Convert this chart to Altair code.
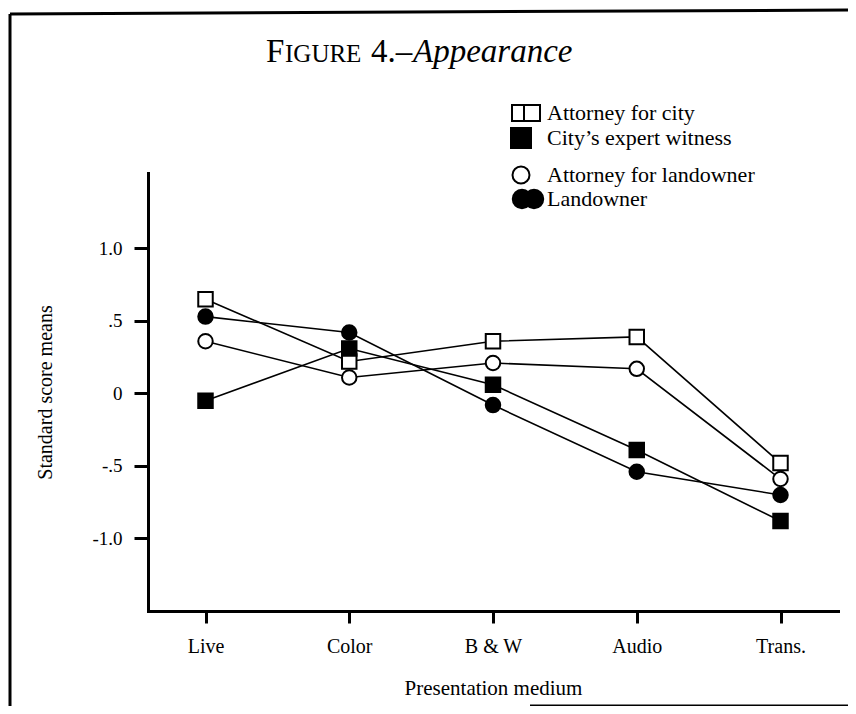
import altair as alt
import pandas as pd

# ---- data ----
categories = ["Live", "Color", "B & W", "Audio", "Trans."]
series_names = ["Attorney for city", "City\u2019s expert witness",
                "Attorney for landowner", "Landowner"]
attorney_city = [0.65, 0.22, 0.36, 0.39, -0.48]
expert_witness = [-0.05, 0.31, 0.06, -0.39, -0.88]
attorney_landowner = [0.36, 0.11, 0.21, 0.17, -0.59]
landowner = [0.53, 0.42, -0.08, -0.54, -0.70]
y_ticks = [1.0, 0.5, 0.0, -0.5, -1.0]
y_tick_labels = ["1.0", ".5", "0", "-.5", "-1.0"]

series_values = [attorney_city, expert_witness, attorney_landowner, landowner]
rows = []
for name, vals in zip(series_names, series_values):
    for cat, v in zip(categories, vals):
        rows.append({"series": name, "medium": cat, "score": v})
df = pd.DataFrame(rows)

label_expr = " : ".join(
    f"datum.value == {v} ? '{t}'" for v, t in zip(y_ticks, y_tick_labels)
) + " : ''"

FONT = "Liberation Serif"
W, H = 690, 438

x_enc = alt.X("medium:N", sort=categories,
              scale=alt.Scale(type="point", padding=0.4),
              axis=alt.Axis(labelAngle=0, grid=False, domainWidth=3, domainColor="black",
                            domainCap="square",
                            tickWidth=3, tickColor="black", tickSize=12,
                            labelFontSize=20, labelColor="black", labelPadding=13,
                            labelFont=FONT,
                            title="Presentation medium", titleFont=FONT, titleFontSize=21,
                            titleFontWeight="normal", titleColor="black",
                            titleY=83, titleBaseline="alphabetic"))
y_enc = alt.Y("score:Q", scale=alt.Scale(domain=[-1.5, 1.52], nice=False, zero=False),
              axis=alt.Axis(values=y_ticks, grid=False, domainWidth=3, domainColor="black",
                            domainCap="square",
                            tickWidth=3, tickColor="black", tickSize=14,
                            labelFontSize=19, labelColor="black", labelPadding=12,
                            labelFont=FONT, labelExpr=label_expr,
                            title="Standard score means", titleFont=FONT, titleFontSize=20,
                            titleFontWeight="normal", titleColor="black",
                            titleX=-103, titleY=219, titleAngle=270,
                            titleAlign="center", titleBaseline="middle"))

lines = alt.Chart(df).mark_line(color="black", strokeWidth=1.6).encode(
    x=x_enc, y=y_enc, detail="series:N")

points = alt.Chart(df).mark_point(filled=True, size=210, stroke="black", strokeWidth=2,
                                  opacity=1, fillOpacity=1).encode(
    x=x_enc, y=y_enc,
    shape=alt.Shape("series:N", scale=alt.Scale(domain=series_names,
                    range=["square", "square", "circle", "circle"]), legend=None),
    fill=alt.Fill("series:N", scale=alt.Scale(domain=series_names,
                  range=["white", "black", "white", "black"]), legend=None))

one = pd.DataFrame({"a": [0]})

def txt(s, x, y, size, style="normal", align="left", baseline="alphabetic"):
    return alt.Chart(one).mark_text(text=s, fontSize=size, font=FONT, fontStyle=style,
                                    align=align, baseline=baseline, color="black").encode(
        x=alt.value(x), y=alt.value(y))

def sym(shape, x, y, size, fill):
    return alt.Chart(one).mark_point(shape=shape, size=size, filled=True, fill=fill,
                                     stroke="black", strokeWidth=2, opacity=1).encode(
        x=alt.value(x), y=alt.value(y))

def rule(x1, y1, x2, y2, w=3):
    return alt.Chart(one).mark_rule(color="black", strokeWidth=w).encode(
        x=alt.value(x1), y=alt.value(y1), x2=alt.value(x2), y2=alt.value(y2))

# title (small caps composed)
title_layers = [
    txt("F", 118, -111, 33),
    txt("IGURE", 137, -111, 25),
    txt("4.\u2013", 223, -111, 33),
    txt("Appearance", 265, -111, 33, style="italic"),
]

# manual legend
legend_layers = [
    sym("square", 372, -60, 256, "white"),
    sym("square", 384, -60, 256, "white"),
    txt(series_names[0], 399, -60, 22, baseline="middle"),
    sym("square", 373, -35, 400, "black"),
    txt(series_names[1], 399, -35, 22, baseline="middle"),
    sym("circle", 373, 2, 289, "white"),
    txt(series_names[2], 399, 2, 22, baseline="middle"),
    sym("circle", 374, 26, 340, "black"),
    sym("circle", 386, 26, 340, "black"),
    txt(series_names[3], 399, 26, 22, baseline="middle"),
]

# page frame
frame_layers = [
    rule(-138, -159, 700, -163),
    rule(-138, -159, -138, 533),
    rule(382, 533, 700, 533),
]

chart = alt.layer(lines, points, *title_layers, *legend_layers, *frame_layers).properties(
    width=W, height=H,
    autosize=alt.AutoSizeParams(type="none"),
    padding={"left": 140, "top": 165, "right": 10, "bottom": 95},
).configure(font=FONT).configure_view(stroke=None)

chart.save("out.html", embed_options={"renderer": "svg", "actions": False})
